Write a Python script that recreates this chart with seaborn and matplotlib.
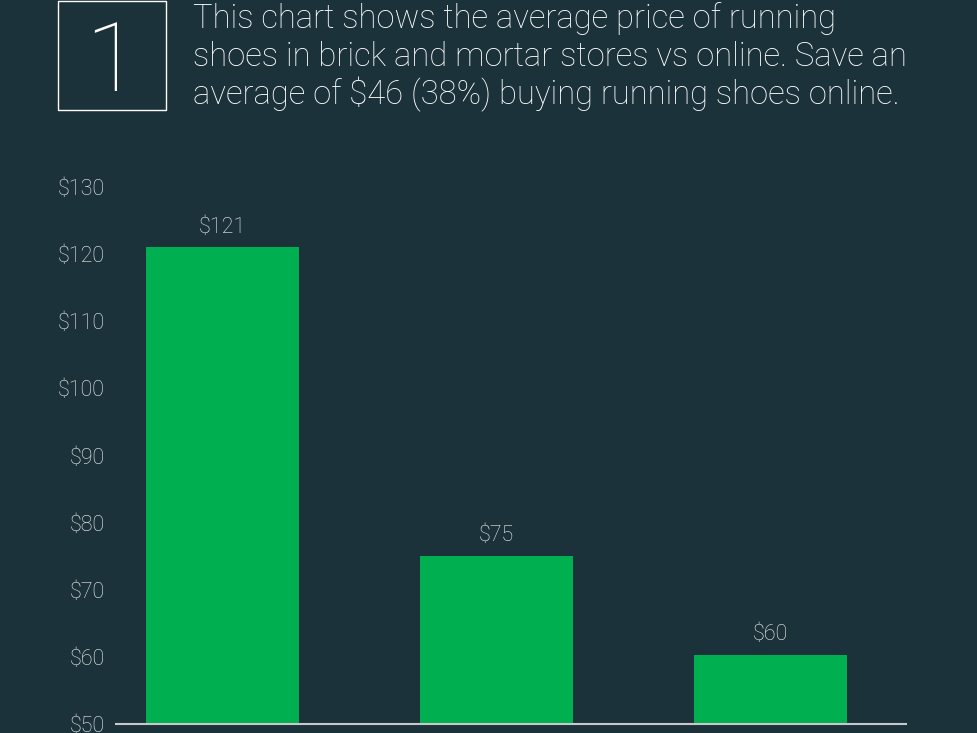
import matplotlib
matplotlib.use("Agg")
import matplotlib.pyplot as plt
import seaborn as sns
import pandas as pd
from matplotlib.patches import Rectangle

# data
stores = ["Brick and mortar", "Online (average)", "Online (best)"]
prices = [121, 75, 60.3]
ytick_values = [50, 60, 70, 80, 90, 100, 110, 120, 130]
ytick_labels = ["$" + str(v) for v in ytick_values]
title_lines = [
    "This chart shows the average price of running",
    "shoes in brick and mortar stores vs online. Save an",
    "average of $46 (38%) buying running shoes online.",
]

bg = "#1c323a"
green = "#00af50"
txt = "#f2f2f2"

sns.set_theme(style="white")
plt.rcParams["font.family"] = ["Roboto", "DejaVu Sans"]

W, H = 978, 733
fig = plt.figure(figsize=(W / 100, H / 100), dpi=100, facecolor=bg)
ax = fig.add_axes([116 / W, (H - 724) / H, 790 / W, 537 / H], facecolor=bg)

df = pd.DataFrame({"store": stores, "price": prices})
sns.barplot(data=df, x="store", y="price", color=green, saturation=1,
            width=0.558, edgecolor="none", linewidth=0, ax=ax)

ax.set_ylim(50, 130)
ax.set_xlim(-0.389, 2.494)
ax.set_yticks(ytick_values)
ax.set_yticklabels(ytick_labels, fontsize=15.5, color=txt, fontweight="light")
ax.tick_params(axis="y", length=0, pad=8)
ax.set_xticks([])
ax.set_xlabel("")
ax.set_ylabel("")
for s in ["top", "right", "left"]:
    ax.spines[s].set_visible(False)
ax.spines["bottom"].set_color("#c8c8c8")
ax.spines["bottom"].set_linewidth(1.5)

for i, v in enumerate(prices):
    ax.annotate("$%d" % round(v), (i, v), xytext=(0, 7), textcoords="offset points",
                ha="center", va="bottom", fontsize=15.5, color=txt,
                fontweight="light")

# number box
fig.add_artist(Rectangle((58 / W, (H - 110) / H), 108 / W, 109 / H,
                         transform=fig.transFigure, fill=False,
                         edgecolor="white", linewidth=1))
fig.text(112 / W, (H - 91) / H, "1", ha="center", va="baseline",
         fontsize=70, color="white", fontweight=100)

baselines = [28, 66.5, 104.5]
for line, yb in zip(title_lines, baselines):
    fig.text(193 / W, (H - yb) / H, line, ha="left", va="baseline",
             fontsize=23.6, color="white", fontweight="light")

fig.savefig("out.png", dpi=100, facecolor=bg)
